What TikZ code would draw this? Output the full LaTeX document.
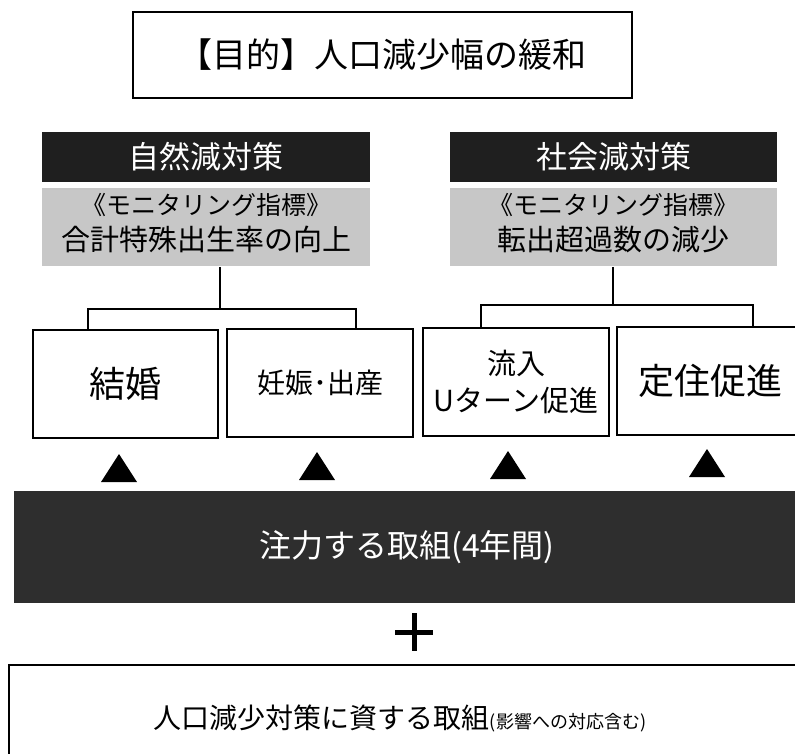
\documentclass[tikz,border=0pt]{standalone}
\usepackage{fontspec}
\setmainfont{Noto Sans CJK JP}
\definecolor{barblack}{gray}{0.12}
\definecolor{focusblack}{gray}{0.18}
\definecolor{monigray}{gray}{0.78}
\begin{document}
\begin{tikzpicture}[x=1pt, y=-1pt, line width=1.6pt,
  head bar/.style={fill=barblack, text=white, inner sep=0pt, minimum width=328pt, minimum height=50pt, font=\fontsize{31}{36}\selectfont},
  moni box/.style={fill=monigray, inner sep=0pt, minimum width=328pt, minimum height=78pt},
  moni title/.style={inner sep=0pt, text height=0.8em, text depth=0.1em, font=\fontsize{25}{30}\selectfont},
  moni text/.style={inner sep=0pt, text height=0.8em, text depth=0.1em, font=\fontsize{29}{34}\selectfont},
  measure box/.style={draw, inner sep=0pt, minimum width=186pt, minimum height=108pt, align=center},
  link/.style={line width=1.8pt}]
\useasboundingbox (0,0) rectangle (795,753);
% goal
\node [draw, line width=2pt, inner sep=0pt, minimum width=499pt, minimum height=86pt, font=\fontsize{34}{40}\selectfont] (goal) at (382.5,55) {【目的】人口減少幅の緩和};
% two kinds of measures
\node [head bar] (nhead) at (206,157) {自然減対策};
\node [moni box] (ngray) at (206,227) {};
\node [moni title] (ntitle) at (206,211) {《モニタリング指標》};
\node [moni text] (nindex) at (206,247) {合計特殊出生率の向上};
\node [head bar, minimum width=327pt] (shead) at (613.5,157) {社会減対策};
\node [moni box, minimum width=327pt] (sgray) at (613.5,227) {};
\node [moni title] (stitle) at (613.5,211) {《モニタリング指標》};
\node [moni text] (sindex) at (613.5,247) {転出超過数の減少};
% measures
\node [measure box, minimum width=185pt, font=\fontsize{36}{40}\selectfont] (kekkon) at (125.5,384) {結婚};
\node [measure box, font=\fontsize{28}{36}\selectfont] (ninshin) at (320,383) {妊娠･出産};
\node [measure box, font=\fontsize{29}{37}\selectfont] (ryunyu) at (516,382) {流入\\Uターン促進};
\node [measure box, font=\fontsize{36}{40}\selectfont] (teiju) at (710,381) {定住促進};
% focus
\node [fill=focusblack, text=white, inner sep=0pt, minimum width=786pt, minimum height=112pt, font=\fontsize{32}{38}\selectfont] (focus) at (407,547) {注力する取組(4年間)};
\node [inner sep=0pt, minimum size=36pt] (plus) at (414,632) {};
\node [draw, inner sep=0pt, minimum width=801pt, minimum height=120pt] (other) at (409.5,725) {};
\node [inner sep=0pt] (otherlabel) at (400,718) {{\fontsize{28}{34}\selectfont 人口減少対策に資する取組}{\fontsize{18}{34}\selectfont (影響への対応含む)}};
% brackets
\coordinate (nj) at (220,309);
\coordinate (nl) at (88,309);
\coordinate (nr) at (356,309);
\coordinate (sj) at (613,305);
\coordinate (sl) at (481,305);
\coordinate (sr) at (753,305);
\draw [link] (ngray.south -| nj) -- (nj);
\draw [link] (kekkon.north -| nl) -- (nl) -- (nr) -- (ninshin.north -| nr);
\draw [link] (sgray.south -| sj) -- (sj);
\draw [link] (ryunyu.north -| sl) -- (sl) -- (sr) -- (teiju.north -| sr);
% markers
\foreach \x/\y in {119/482, 317/480, 508/479, 707/477}
  \fill (\x-18,\y) -- (\x+18,\y) -- (\x,\y-28) -- cycle;
\draw [line width=5pt] (plus.north) -- (plus.south) (plus.west) -- (plus.east);
\end{tikzpicture}
\end{document}
